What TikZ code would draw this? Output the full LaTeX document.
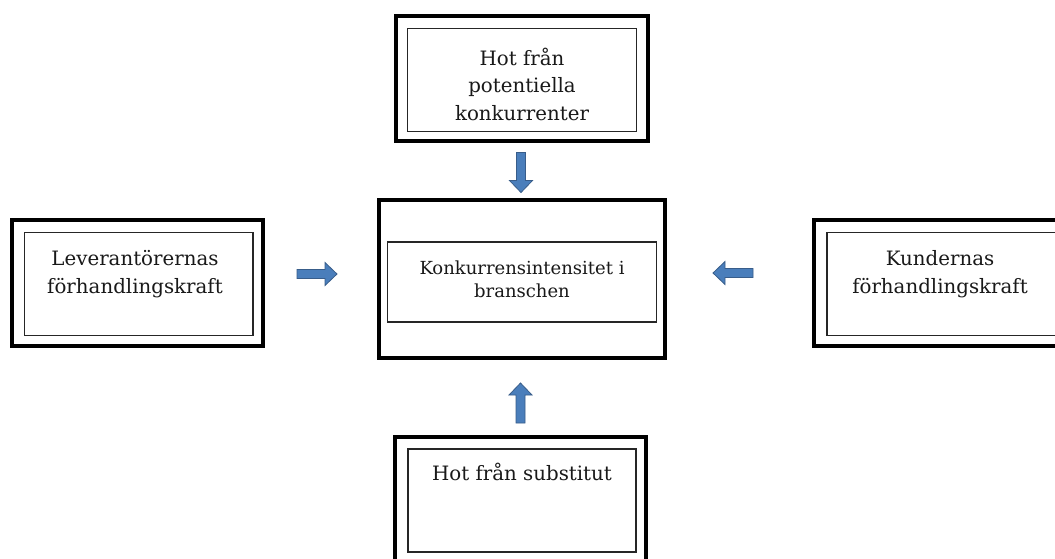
\documentclass[tikz,border=0pt]{standalone}
\usepackage{fontspec}
\setmainfont{DejaVu Serif}
\usetikzlibrary{positioning}
\definecolor{arrfill}{HTML}{4A7EBB}
\definecolor{arrdraw}{HTML}{385D8A}
\tikzset{
  outerbox/.style={draw=black, line width=3.6pt, rectangle, inner sep=0pt, outer sep=0pt, minimum width=#1},
  innerbox/.style={draw=black!85, line width=1.1pt, rectangle, inner sep=0pt, outer sep=0pt, minimum width=#1},
  lbl/.style={align=center, font=\fontsize{19.8}{27.5}\selectfont, text=black!90, inner sep=0pt},
  lblsmall/.style={align=center, font=\fontsize{18}{23}\selectfont, text=black!90, inner sep=0pt},
  blockarrow/.pic={
    \path[pic actions, fill=arrfill, draw=arrdraw, line width=0.8pt]
      (-20,-4.5) -- (8,-4.5) -- (8,-11.5) -- (20,0) -- (8,11.5) -- (8,4.5) -- (-20,4.5) -- cycle;
  }
}
\begin{document}
\begin{tikzpicture}[x=1pt,y=-1pt]
\clip (0,0) rectangle (1055,558);
\fill[white] (0,0) rectangle (1055,558);
% top box
\node[outerbox=252pt, minimum height=125pt] (topO) at (522,78.5) {};
\node[innerbox=229pt, minimum height=103pt] (topI) at (522,80) {};
\node[lbl] (topT) at (522,84) {Hot från\\potentiella\\konkurrenter};
% center box
\node[outerbox=286pt, minimum height=158pt] (cenO) at (522,279) {};
\node[innerbox=269pt, minimum height=80pt] (cenI) at (522,282) {};
\node[lblsmall] (cenT) at (522,279) {Konkurrensintensitet i\\branschen};
% left box
\node[outerbox=251pt, minimum height=126pt] (lefO) at (137.5,283) {};
\node[innerbox=228.5pt, minimum height=102.5pt] (lefI) at (138.7,284) {};
\node[lbl] (lefT) at (135,274) {Leverantörernas\\förhandlingskraft};
% right box
\node[outerbox=251pt, minimum height=126pt] (rigO) at (939.5,283) {};
\node[innerbox=228.5pt, minimum height=102.5pt] (rigI) at (941.2,284) {};
\node[lbl] (rigT) at (940,274) {Kundernas\\förhandlingskraft};
% bottom box
\node[outerbox=251pt, minimum height=125pt] (botO) at (520.5,499.5) {};
\node[innerbox=228pt, minimum height=103pt] (botI) at (522,500.5) {};
\node[lbl, anchor=base] (botT) at (522,480) {Hot från substitut};
% arrows
\pic[rotate=-90] (arrTop) at (521,172.5) {blockarrow};
\pic[rotate=90] (arrBot) at (520.5,403) {blockarrow};
\pic (arrLef) at (317,274) {blockarrow};
\pic[rotate=180] (arrRig) at (733,273) {blockarrow};
\end{tikzpicture}
\end{document}
